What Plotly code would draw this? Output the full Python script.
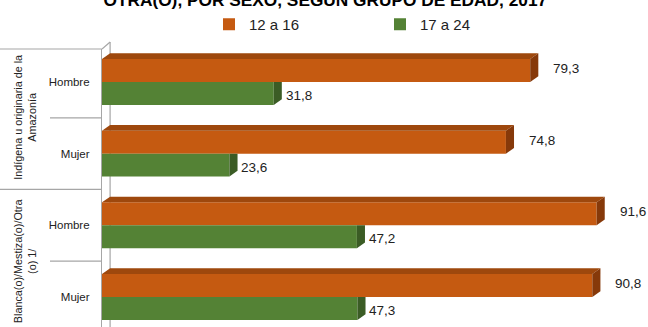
import plotly.graph_objects as go

# ---- data ----
groups = ["Indígena u originaria de la<br>Amazonía", "Blanca(o)/Mestiza(o)/Otra<br>(o) 1/"]
sexes = ["Hombre", "Mujer", "Hombre", "Mujer"]
series_names = ["12 a 16", "17 a 24"]
vals_12_16 = [79.3, 74.8, 91.6, 90.8]
vals_17_24 = [31.8, 23.6, 47.2, 47.3]
title_text = "OTRA(O), POR SEXO, SEGÚN GRUPO DE EDAD, 2017"

# ---- style ----
ORANGE = "#C55A11"
ORANGE_TOP = "#9E480D"
ORANGE_SIDE = "#86390A"
GREEN = "#548235"
GREEN_SIDE = "#3B5C25"
FONT = "Liberation Sans, Arial, sans-serif"
W, H = 648, 327
ML, MT = 102, 49
BW = 0.32          # bar thickness (axis units)
DX, DY = 1.5, 0.08  # 3D depth offsets (axis units)

ypos = list(range(len(sexes)))
fig = go.Figure()

fig.add_trace(go.Bar(y=ypos, x=vals_12_16, orientation="h", name=series_names[0],
                     marker=dict(color=ORANGE, line=dict(width=0)), width=BW, offset=-BW))
fig.add_trace(go.Bar(y=ypos, x=vals_17_24, orientation="h", name=series_names[1],
                     marker=dict(color=GREEN, line=dict(width=0)), width=BW, offset=0))

# 3D faces derived from the values
for yi, v in zip(ypos, vals_12_16):
    yt, yb = yi - BW, yi
    fig.add_trace(go.Scatter(x=[0, v, v + DX, DX, 0], y=[yt, yt, yt - DY, yt - DY, yt],
                             fill="toself", fillcolor=ORANGE_TOP, mode="none",
                             showlegend=False, hoverinfo="skip"))
    fig.add_trace(go.Scatter(x=[v, v + DX, v + DX, v, v], y=[yt, yt - DY, yb - DY, yb, yt],
                             fill="toself", fillcolor=ORANGE_SIDE, mode="none",
                             showlegend=False, hoverinfo="skip"))
for yi, v in zip(ypos, vals_17_24):
    yt, yb = yi, yi + BW
    fig.add_trace(go.Scatter(x=[v, v + DX, v + DX, v, v], y=[yt, yt, yb - DY, yb, yt],
                             fill="toself", fillcolor=GREEN_SIDE, mode="none",
                             showlegend=False, hoverinfo="skip"))

def fmt(v):
    return f"{v:.1f}".replace(".", ",")

for yi, v in zip(ypos, vals_12_16):
    fig.add_annotation(x=v, y=yi - BW / 2, text=fmt(v), showarrow=False, xanchor="left",
                       xshift=21, yshift=2, font=dict(family=FONT, size=13.5, color="#222"))
for yi, v in zip(ypos, vals_17_24):
    fig.add_annotation(x=v, y=yi + BW / 2, text=fmt(v), showarrow=False, xanchor="left",
                       xshift=10, yshift=-2, font=dict(family=FONT, size=13.5, color="#222"))

# group labels (rotated)
for gi, g in enumerate(groups):
    fig.add_annotation(x=-77 / (W - ML), xref="paper", y=gi * 2 + 0.5, yref="y", text=g,
                       textangle=-90, showarrow=False, xanchor="center", yanchor="middle",
                       font=dict(family=FONT, size=10.8, color="#222"))

# axis box / wall lines
px = lambda p: (p - ML) / (W - ML)
pw = W - ML
ph = H - MT
line = dict(color="#A6A6A6", width=1.2)
fig.add_shape(type="line", xref="paper", yref="paper", x0=px(0), x1=0, y0=1, y1=1, line=line)
for d, left in zip([0.5, 1.5, 2.5], [50, 0, 50]):
    fig.add_shape(type="line", xref="paper", yref="y", x0=px(left), x1=0, y0=d, y1=d, line=line)
fig.add_shape(type="line", xref="x", yref="paper", x0=0, x1=DX, y0=1, y1=1 + 7 / ph, line=line)
fig.add_shape(type="line", xref="x", yref="paper", x0=DX, x1=DX, y0=1 + 7 / ph, y1=0,
              line=line, layer="below")

fig.update_layout(
    width=W, height=H,
    margin=dict(l=ML, r=0, t=MT, b=0),
    paper_bgcolor="white", plot_bgcolor="white",
    barmode="overlay",
    showlegend=True,
    title=dict(text=title_text, x=0.502, xanchor="center", y=1.0, yref="container",
               yanchor="middle", font=dict(family=FONT, size=17.3,
                                           color="black", weight="bold")),
    legend=dict(orientation="h", xref="container", yref="container", x=209 / W, y=1 - 8 / H,
                xanchor="left", yanchor="top", entrywidth=126, font=dict(family=FONT, size=15,
                color="#222"), bgcolor="rgba(0,0,0,0)", traceorder="normal"),
    xaxis=dict(range=[0, pw / 5.4], showgrid=False, zeroline=False, showticklabels=False,
               showline=False, fixedrange=True),
    yaxis=dict(range=[-0.46 + ph / 71.67, -0.46], tickmode="array", tickvals=ypos, ticktext=sexes,
               showgrid=False, zeroline=False, showline=True, linecolor="#A6A6A6", linewidth=1.2,
               ticks="", ticklabelstandoff=9, tickfont=dict(family=FONT, size=11.5, color="#222")),
)

fig.write_html("out.html", config={"displayModeBar": False},
               post_script="document.body.style.margin='0';document.body.style.overflow='hidden';")
